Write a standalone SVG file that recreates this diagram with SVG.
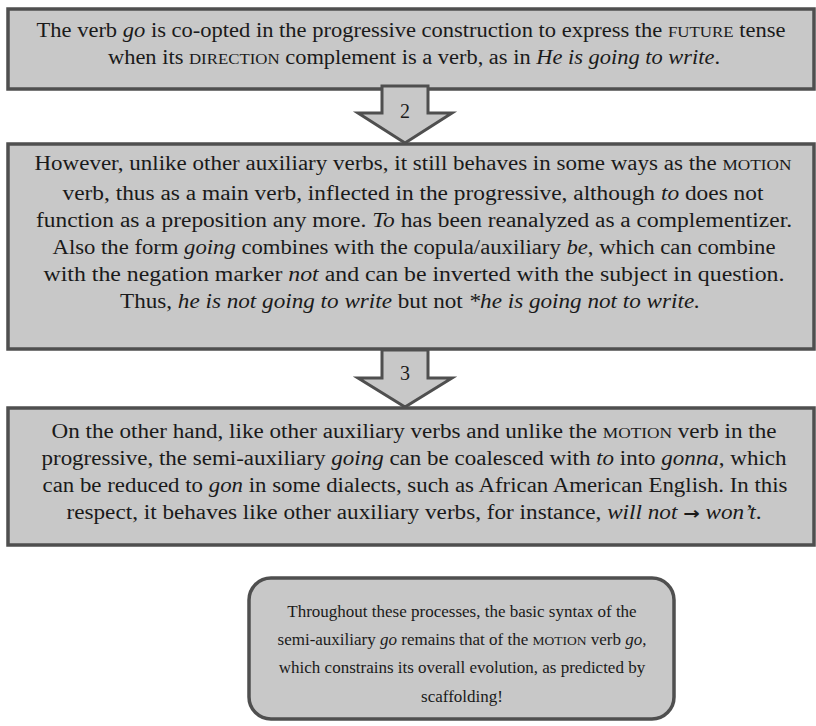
<svg xmlns="http://www.w3.org/2000/svg" width="816" height="726" viewBox="0 0 816 726">
  <style>
    .box { fill: #c8c8c8; stroke: #4f4f4f; stroke-width: 3.5; }
    .arrow { fill: #c8c8c8; stroke: #4f4f4f; stroke-width: 3; stroke-linejoin: miter; }
    .t { font-family: "Liberation Serif", "DejaVu Serif", serif; font-size: 20px; fill: #1a1a1a; text-anchor: middle; }
    .t2 { font-family: "Liberation Serif", "DejaVu Serif", serif; font-size: 17px; fill: #1a1a1a; text-anchor: middle; }
    .i { font-style: italic; }
    .sc { font-size: 15px; }
    .sc2 { font-size: 13.5px; }
    .ar { font-family: "DejaVu Sans", sans-serif; font-style: normal; font-weight: bold; font-size: 17px; }
    .num { font-family: "Liberation Serif", "DejaVu Serif", serif; font-size: 20px; fill: #1a1a1a; text-anchor: middle; }
  </style>
  <rect width="816" height="726" fill="#ffffff"/>

  <!-- Step 1: future reading of go -->
  <g id="node-future">
    <rect class="box" x="8" y="9" width="806" height="80"/>
    <text class="t" x="411" y="37" textLength="749" lengthAdjust="spacingAndGlyphs">The verb <tspan class="i">go</tspan> is co-opted in the progressive construction to express the <tspan class="sc">FUTURE</tspan> tense</text>
    <text class="t" x="414" y="64" textLength="612" lengthAdjust="spacingAndGlyphs">when its <tspan class="sc">DIRECTION</tspan> complement is a verb, as in <tspan class="i">He is going to write</tspan>.</text>
  </g>

  <!-- Step 2: main-verb behaviour -->
  <g id="node-main-verb">
    <rect class="box" x="8" y="144" width="806" height="205"/>
    <text class="t" x="413" y="170" textLength="757" lengthAdjust="spacingAndGlyphs">However, unlike other auxiliary verbs, it still behaves in some ways as the <tspan class="sc">MOTION</tspan></text>
    <text class="t" x="413" y="200" textLength="701" lengthAdjust="spacingAndGlyphs">verb, thus as a main verb, inflected in the progressive, although <tspan class="i">to</tspan> does not</text>
    <text class="t" x="414" y="227" textLength="756" lengthAdjust="spacingAndGlyphs">function as a preposition any more. <tspan class="i">To</tspan> has been reanalyzed as a complementizer.</text>
    <text class="t" x="414" y="254" textLength="723" lengthAdjust="spacingAndGlyphs">Also the form <tspan class="i">going</tspan> combines with the copula/auxiliary <tspan class="i">be</tspan>, which can combine</text>
    <text class="t" x="414" y="281" textLength="741" lengthAdjust="spacingAndGlyphs">with the negation marker <tspan class="i">not</tspan> and can be inverted with the subject in question.</text>
    <text class="t" x="410" y="308" textLength="580" lengthAdjust="spacingAndGlyphs">Thus, <tspan class="i">he is not going to write</tspan> but not <tspan class="i">*he is going not to write.</tspan></text>
  </g>

  <!-- Step 3: auxiliary behaviour -->
  <g id="node-auxiliary">
    <rect class="box" x="8" y="408" width="806" height="137"/>
    <text class="t" x="414" y="438" textLength="725" lengthAdjust="spacingAndGlyphs">On the other hand, like other auxiliary verbs and unlike the <tspan class="sc">MOTION</tspan> verb in the</text>
    <text class="t" x="414" y="465" textLength="745" lengthAdjust="spacingAndGlyphs">progressive, the semi-auxiliary <tspan class="i">going</tspan> can be coalesced with <tspan class="i">to</tspan> into <tspan class="i">gonna</tspan>, which</text>
    <text class="t" x="415" y="492" textLength="745" lengthAdjust="spacingAndGlyphs">can be reduced to <tspan class="i">gon</tspan> in some dialects, such as African American English. In this</text>
    <text class="t" x="414" y="519" textLength="695" lengthAdjust="spacingAndGlyphs">respect, it behaves like other auxiliary verbs, for instance, <tspan class="i">will not </tspan><tspan class="ar">→</tspan><tspan class="i"> won’t</tspan>.</text>
  </g>

  <!-- Conclusion: scaffolding -->
  <g id="node-scaffolding">
    <rect class="box" x="249" y="578" width="425" height="141" rx="22" ry="22"/>
    <text class="t2" x="462" y="617">Throughout these processes, the basic syntax of the</text>
    <text class="t2" x="462" y="645">semi-auxiliary <tspan class="i">go</tspan> remains that of the <tspan class="sc2">MOTION</tspan> verb <tspan class="i">go</tspan>,</text>
    <text class="t2" x="462" y="673">which constrains its overall evolution, as predicted by</text>
    <text class="t2" x="462" y="702">scaffolding!</text>
  </g>

  <!-- Numbered block arrows between steps -->
  <g id="connectors">
    <g id="arrow-2">
      <polygon class="arrow" points="382,86 428,86 428,113 452,113 405,143 358,113 382,113"/>
      <text class="num" x="405" y="118">2</text>
    </g>
    <g id="arrow-3">
      <polygon class="arrow" points="382,350 428,350 428,378 452,378 405,407 358,378 382,378"/>
      <text class="num" x="405" y="380">3</text>
    </g>
  </g>
</svg>
